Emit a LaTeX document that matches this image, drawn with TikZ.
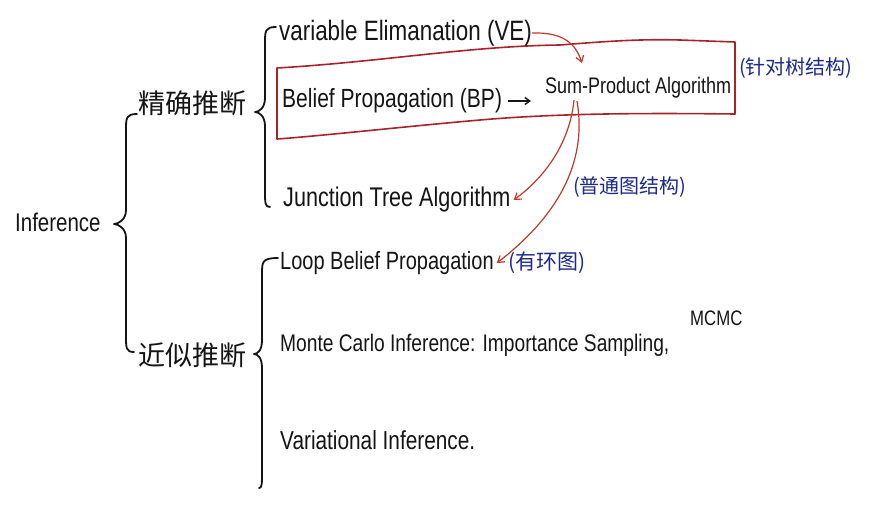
\documentclass[tikz,border=0pt]{standalone}
\usepackage{fontspec}
\setmainfont{Liberation Sans}[FakeStretch=0.8]
\newfontfamily\cjk{Noto Sans CJK SC}
\usetikzlibrary{arrows.meta}
\definecolor{ink}{HTML}{151515}
\definecolor{boxred}{HTML}{A8232B}
\definecolor{arrred}{HTML}{C0392B}
\definecolor{inkblue}{HTML}{1D2A8A}
\newcommand\fs[1]{\fontsize{#1}{#1}\selectfont}
\newcommand\handbrace[7]{%
  \draw[bracestyle] (#3,#2) .. controls (#1,#2) and (#1,#2+4) .. (#1,#2+16)
    -- (#1,#5-14) .. controls (#1,#5-4) and (#4+4,#5) .. (#4,#5)
    .. controls (#4+4,#5) and (#1,#5+4) .. (#1,#5+14)
    -- (#1,#6-16) .. controls (#1,#6-4) and (#1,#6) .. (#7,#6);}
\tikzset{
  txt/.style={anchor=west, inner sep=0pt, text=ink},
  cn/.style={txt, font=\cjk\fs{27}},
  note/.style={anchor=west, inner sep=0pt, text=inkblue, font=\cjk\fs{20}},
  bracestyle/.style={draw=ink, line width=1.8pt, line cap=round, line join=round},
  redbox/.style={draw=boxred, line width=1.6pt, line join=round},
  redarrow/.style={draw=arrred, line width=1.2pt, -{Straight Barb[length=6pt,width=8pt]}},
  blackarrow/.style={draw=ink, line width=1.4pt, -{Straight Barb[length=5pt,width=7pt]}}
}
\begin{document}
\begin{tikzpicture}[x=1pt,y=-1pt]
\useasboundingbox[fill=white] (0,0) rectangle (880,504);
% red box
\draw[redbox] (277,68) .. controls (380,62) and (470,46) .. (560,45)
  .. controls (610,41) and (640,39) .. (680,40) -- (735,42) -- (735,114)
  .. controls (650,113) and (560,113) .. (480,120)
  .. controls (400,127) and (320,136) .. (277,139) -- cycle;
% nodes
\node[txt, font=\fs{25.6}] (inf) at (15,222) {Inference};
\node[cn] (exact) at (138,103) {精确推断};
\node[cn] (approx) at (138,355) {近似推断};
\node[txt, font=\fs{28}] (ve) at (279,33) {variable Elimanation (VE)};
\node[txt, font=\fs{26.3}] (bp) at (282,101) {Belief Propagation (BP)};
\node[txt, font=\fs{22.5}] (sp) at (545,88) {Sum-Product Algorithm};
\node[note] (tree) at (739,68) {(针对树结构)};
\node[txt, font=\fs{27}] (jt) at (283,200) {Junction Tree Algorithm};
\node[note] (gen) at (573,187) {(普通图结构)};
\node[txt, font=\fs{25}] (lbp) at (280,263) {Loop Belief Propagation};
\node[note, font=\cjk\fs{21}] (loopy) at (508,263) {(有环图)};
\node[txt, font=\fs{24}] (mc) at (280,345) {Monte Carlo Inference: Importance Sampling,};
\node[txt, font=\fs{21}] (mcmc) at (690,318) {MCMC};
\node[txt, font=\fs{26}] (vi) at (280,440) {Variational Inference.};
% braces
\handbrace{126}{114}{137}{114}{224}{352}{134}
\handbrace{265}{27}{276}{255}{112}{207}{270}
\handbrace{262}{258}{278}{254}{354}{488}{259}
% arrows
\draw[blackarrow, shorten <=6pt, shorten >=14pt] (bp.east) -- (bp.east -| sp.west);
\coordinate (sumA) at (574,100);
\coordinate (sumB) at (577,101);
\coordinate (prodtop) at (582,63);
\draw[redarrow] (ve.east) .. controls (565,32) and (576,45) .. (prodtop);
\draw[redarrow] (sumA) .. controls (570,140) and (548,175) .. ([xshift=3pt]jt.east);
\draw[redarrow] (sumB) .. controls (588,165) and (555,218) .. ([xshift=3pt]lbp.east);
\end{tikzpicture}
\end{document}
